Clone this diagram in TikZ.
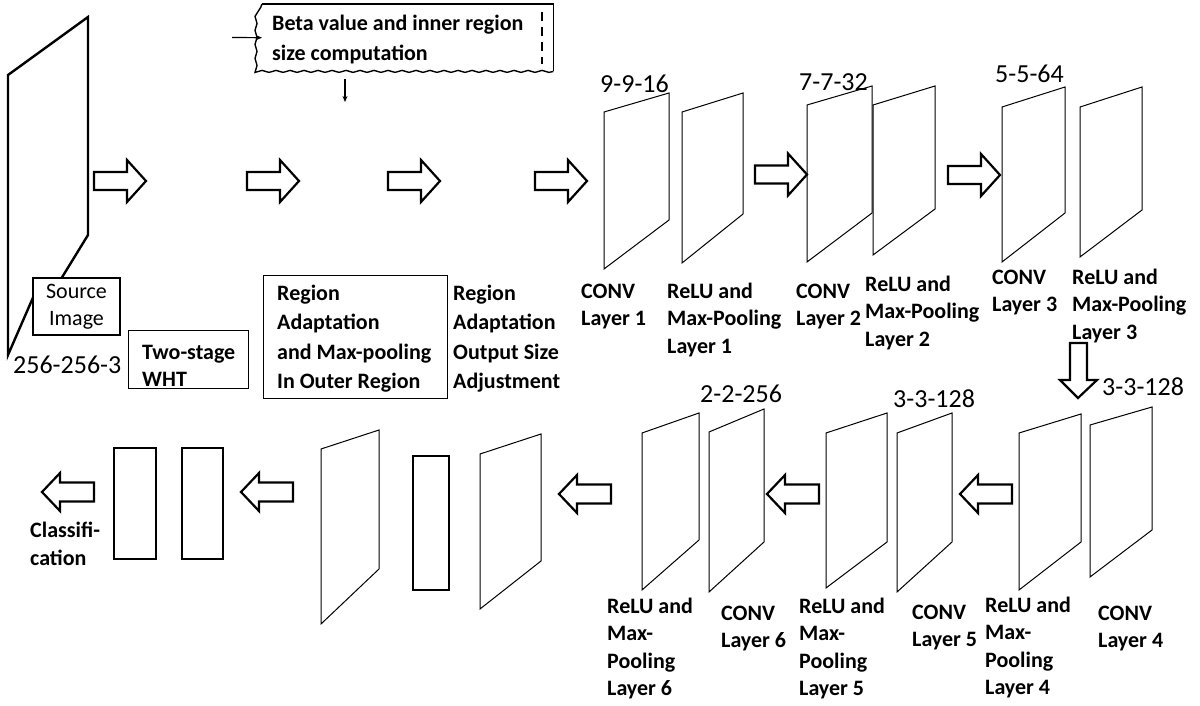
\documentclass[tikz,border=0pt]{standalone}
\usepackage{fontspec}
\setmainfont{Carlito}
\usetikzlibrary{arrows.meta,decorations.pathmorphing}
\newcommand\plnA[6]{\draw[plane] (#1,#2) -- (#3,#4) -- (#3,#5) -- (#1,#6) -- cycle;}
\newcommand\arR[2]{\draw[blk] (#1,#2-9) -- (#1+33,#2-9) -- (#1+33,#2-21) -- (#1+52,#2) -- (#1+33,#2+21) -- (#1+33,#2+9) -- (#1,#2+9) -- cycle;}
\newcommand\arL[2]{\draw[blk] (#1,#2) -- (#1+18,#2-19) -- (#1+18,#2-9.5) -- (#1+52,#2-9.5) -- (#1+52,#2+9.5) -- (#1+18,#2+9.5) -- (#1+18,#2+19) -- cycle;}
\begin{document}
\begin{tikzpicture}[x=1pt,y=-1pt,
  lbl/.style={font=\bfseries\fontsize{22}{27.5}\selectfont, align=left, inner sep=0pt, anchor=base west},
  rlbl/.style={font=\fontsize{22}{27}\selectfont, align=center, inner sep=0pt},
  num/.style={font=\fontsize{26}{30}\selectfont, inner sep=0pt, anchor=base west},
  blk/.style={draw, line width=2.2pt, line join=miter, fill=white},
  plane/.style={draw, line width=1pt, line join=miter},
  boxln/.style={draw, line width=1.2pt, inner sep=0pt},
  thickbox/.style={draw, line width=2.4pt},
  thinarrow/.style={line width=1.2pt, -{Stealth[length=6pt,width=5pt]}}
]
\useasboundingbox (0,0) rectangle (1200,706);

% source image plane
\draw[line width=2.4pt, line join=miter] (8,75) -- (88,17) -- (88,235) -- (61,279) -- (35,293) -- (8,355) -- cycle;
\node[draw, line width=2pt, fill=white, minimum width=87pt, minimum height=57pt, rlbl, inner sep=0pt] (src) at (76.5,306.5) {Source\\Image};
\node[num] (srcnum) at (13,373) {256-256-3};

% two-stage WHT
\node[boxln, minimum width=120pt, minimum height=58pt, anchor=north west] (wht) at (128,330) {};
\node[lbl] (whtt) at (142,386.5) {Two-stage\\WHT};

% region adaptation
\node[boxln, minimum width=184pt, minimum height=123pt, anchor=north west] (reg) at (263,275) {};
\node[lbl, font=\bfseries\fontsize{22}{29.5}\selectfont] (regt) at (277,388.5) {Region\\Adaptation\\and Max-pooling\\In Outer Region};
\node[lbl, font=\bfseries\fontsize{22}{29.5}\selectfont] (adj) at (453,388.5) {Region\\Adaptation\\Output Size\\Adjustment};

% beta box
\node[minimum width=291pt, minimum height=67pt, anchor=north west, inner sep=0pt] (beta) at (262,4) {};
\draw[line width=1.4pt] (beta.north west) -- (beta.north east) -- (beta.south east);
\draw[line width=1.4pt, decorate, decoration={snake, amplitude=1pt, segment length=14pt}] (beta.south east) -- (beta.south west) -- (beta.north west);
\draw[line width=2.4pt, dash pattern=on 9pt off 6pt] (542,12) -- (542,64);
\node[lbl, font=\bfseries\fontsize{22}{30}\selectfont] (betat) at (272,61) {Beta value and inner region\\size computation};
\coordinate (bin) at (232,37.5);
\draw[thinarrow] (bin) -- (beta.west);
\coordinate (bd1) at (345,79);
\coordinate (bd2) at (345,102);
\draw[thinarrow] (bd1) -- (bd2);

% top row arrows
\arR{94}{181}
\arR{247}{181}
\arR{388}{181}
\arR{535}{181}
\arR{948}{175}

% top planes
\plnA{604}{112}{669}{93}{220}{269}
\plnA{682}{112}{743}{93}{214}{263}
\plnA{807}{105}{872}{86}{213}{262}
\plnA{873}{105}{935}{86}{209}{255}
\plnA{1002}{107}{1065}{87}{213}{262}
\plnA{1080}{107}{1142}{87}{210}{257}
\arR{755}{174.5}

\node[num] (n1) at (600,93) {9-9-16};
\node[num] (n2) at (799,91) {7-7-32};
\node[num] (n3) at (995,83) {5-5-64};

\node[lbl] (c1) at (581,325.5) {CONV\\Layer 1};
\node[lbl] (r1) at (667,353) {ReLU and\\Max-Pooling\\Layer 1};
\node[lbl] (c2) at (796,325.5) {CONV\\Layer 2};
\node[lbl] (r2) at (865,346) {ReLU and\\Max-Pooling\\Layer 2};
\node[lbl] (c3) at (992,311.5) {CONV\\Layer 3};
\node[lbl] (r3) at (1072,339) {ReLU and\\Max-Pooling\\Layer 3};

% down arrow
\draw[blk] (1070,343) -- (1087,343) -- (1087,380) -- (1097,380) -- (1078,398) -- (1060,380) -- (1070,380) -- cycle;
\node[num] (n4) at (1102,395) {3-3-128};

% bottom planes
\plnA{642}{433}{699}{413}{540}{590}
\plnA{709}{432}{764}{409}{542}{592}
\plnA{826}{433}{887}{413}{542}{588}
\plnA{897}{433}{952}{413}{542}{592}
\plnA{1019}{433}{1081}{414}{542}{590}
\plnA{1090}{425}{1152}{407}{530}{577}
\plnA{321}{449}{379}{430}{569}{624}
\plnA{480}{454}{541}{434}{561}{609}

\node[num] (n5) at (700,402) {2-2-256};
\node[num] (n6) at (893,407) {3-3-128};

\node[lbl] (r6) at (607,695.5) {ReLU and\\Max-\\Pooling\\Layer 6};
\node[lbl] (c6) at (721,647.5) {CONV\\Layer 6};
\node[lbl] (r5) at (799,695.5) {ReLU and\\Max-\\Pooling\\Layer 5};
\node[lbl] (c5) at (912,646.5) {CONV\\Layer 5};
\node[lbl] (r4) at (985,694.5) {ReLU and\\Max-\\Pooling\\Layer 4};
\node[lbl] (c4) at (1098,647.5) {CONV\\Layer 4};

% bottom arrows
\arL{42}{492}
\arL{241}{492}
\arL{559}{494}
\arL{767}{494}
\arL{960}{494}

% rectangles
\draw[thickbox] (114,448) rectangle (156,559);
\draw[thickbox] (182,448) rectangle (223,559);
\draw[thickbox] (413,456) rectangle (449,590);

\node[lbl, font=\bfseries\fontsize{22}{28}\selectfont] (cls) at (30,565) {Classifi-\\cation};
\end{tikzpicture}
\end{document}
